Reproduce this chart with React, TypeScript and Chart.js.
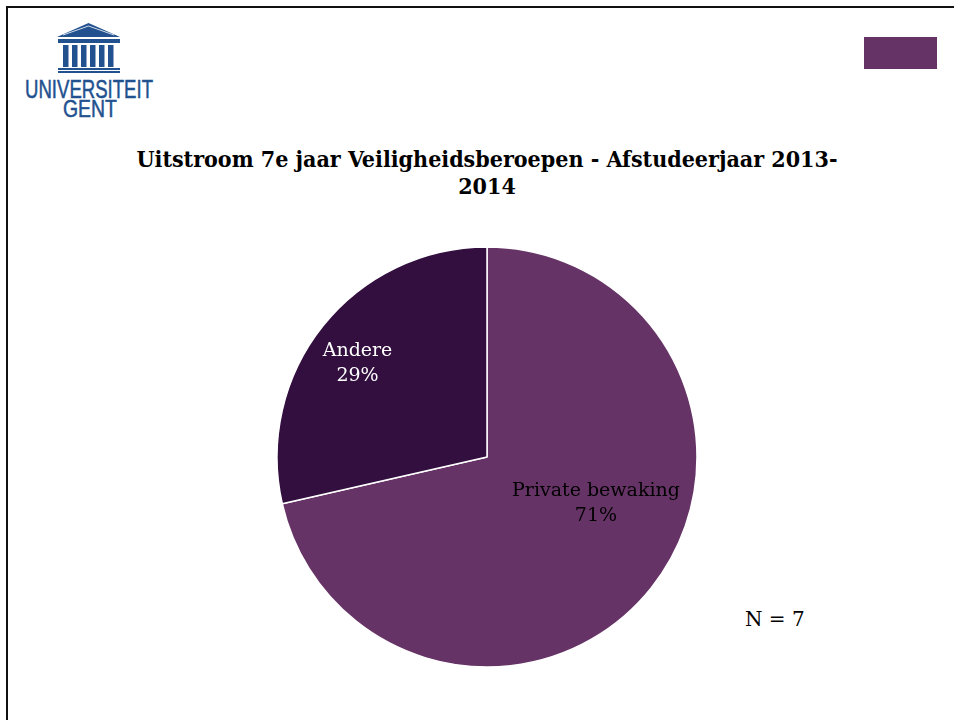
import React, { useEffect, useRef } from "react";
import { Chart, registerables } from "chart.js";

Chart.register(...registerables);

// ---- data ----
const categories = ["Private bewaking", "Andere"];
const counts = [5, 2];
const sliceColors = ["#663366", "#330f40"];
const labelColors = ["#000000", "#ffffff"];
const titleLines = [
  "Uitstroom 7e jaar Veiligheidsberoepen - Afstudeerjaar 2013-",
  "2014",
];
const nLabel = "N = 7";

// ---- label placement (style, not data) ----
const LABEL_ANGLE_OFFSET_DEG = [-15.5, -2.9];
const LABEL_RADIAL_FRACTION = [0.564, 0.759];
const LABEL_FONT = '19px "DejaVu Serif", serif';
const LABEL_LINE_GAP = 25;

const total = counts.reduce((a, b) => a + b, 0);
const percentLabels = counts.map((v) => Math.round((v / total) * 100) + "%");

const sliceLabelPlugin = {
  id: "sliceLabels",
  afterDatasetsDraw(chart: any) {
    const meta = chart.getDatasetMeta(0);
    const ctx = chart.ctx;
    meta.data.forEach((arc: any, i: number) => {
      const p = arc.getProps(["x", "y", "startAngle", "endAngle", "outerRadius"], true);
      const a = (p.startAngle + p.endAngle) / 2 + (LABEL_ANGLE_OFFSET_DEG[i] * Math.PI) / 180;
      const r = p.outerRadius * LABEL_RADIAL_FRACTION[i];
      const cx = p.x + Math.cos(a) * r;
      const cy = p.y + Math.sin(a) * r;
      ctx.save();
      ctx.font = LABEL_FONT;
      ctx.fillStyle = labelColors[i];
      ctx.textAlign = "center";
      ctx.textBaseline = "middle";
      ctx.fillText(categories[i], cx, cy - LABEL_LINE_GAP / 2);
      ctx.fillText(percentLabels[i], cx, cy + LABEL_LINE_GAP / 2);
      ctx.restore();
    });
  },
};

function Logo() {
  const blue = "#22518f";
  const cols = [0, 1, 2, 3, 4, 5];
  return (
    <svg
      width={200}
      height={130}
      style={{ position: "absolute", left: 0, top: 0 }}
      viewBox="0 0 200 130"
    >
      <polygon points="57,37 88.5,23 120,37" fill={blue} />
      <polyline points="63,35 88.5,26 114,35" fill="none" stroke="#ffffff" strokeWidth={0.8} />
      <rect x={58} y={39} width={62} height={4} fill={blue} />
      {cols.map((c) => (
        <rect key={c} x={63 + c * 9} y={45} width={5.5} height={22} fill={blue} />
      ))}
      <rect x={58} y={68} width={62} height={2} fill={blue} />
      <rect x={58} y={71} width={62} height={2} fill={blue} />
      <text
        x={25}
        y={98}
        fontFamily='"Liberation Sans", Arial, sans-serif'
        fontSize={25}
        fill={blue}
        stroke={blue}
        strokeWidth={0.5}
        textLength={128}
        lengthAdjust="spacingAndGlyphs"
      >
        UNIVERSITEIT
      </text>
      <text
        x={63}
        y={117}
        fontFamily='"Liberation Sans", Arial, sans-serif'
        fontSize={24}
        fill={blue}
        stroke={blue}
        strokeWidth={0.5}
        textLength={54}
        lengthAdjust="spacingAndGlyphs"
      >
        GENT
      </text>
    </svg>
  );
}

export default function App() {
  const canvasRef = useRef<HTMLCanvasElement | null>(null);

  useEffect(() => {
    document.body.style.margin = "0";
    const canvas = canvasRef.current;
    if (!canvas) return;
    const chart = new Chart(canvas, {
      type: "pie",
      data: {
        labels: categories,
        datasets: [
          {
            data: counts,
            backgroundColor: sliceColors,
            borderColor: "#ffffff",
            borderWidth: 1.5,
          },
        ],
      },
      options: {
        responsive: false,
        animation: false,
        radius: 210,
        layout: { padding: 0 },
        plugins: {
          legend: { display: false },
          tooltip: { enabled: false },
          title: { display: false },
        },
      },
      plugins: [sliceLabelPlugin],
    } as any);
    return () => chart.destroy();
  }, []);

  return (
    <div
      style={{
        position: "absolute",
        left: 0,
        top: 0,
        width: 954,
        height: 720,
        background: "#ffffff",
        overflow: "hidden",
      }}
    >
      <div
        style={{
          position: "absolute",
          left: 6,
          top: 6,
          width: 960,
          height: 730,
          borderTop: "2px solid #111111",
          borderLeft: "2px solid #111111",
        }}
      />
      <Logo />
      <div
        style={{
          position: "absolute",
          left: 864,
          top: 37,
          width: 73,
          height: 32,
          background: "#663366",
        }}
      />
      <div
        style={{
          position: "absolute",
          left: 87,
          top: 145,
          width: 800,
          textAlign: "center",
          fontFamily: '"DejaVu Serif Condensed", "DejaVu Serif", serif',
          fontWeight: "bold",
          fontSize: 23,
          lineHeight: "27px",
          color: "#000000",
        }}
      >
        {titleLines.map((t, i) => (
          <div key={i}>{t}</div>
        ))}
      </div>
      <canvas
        ref={canvasRef}
        width={440}
        height={440}
        style={{ position: "absolute", left: 267, top: 237, width: 440, height: 440 }}
      />
      <div
        style={{
          position: "absolute",
          left: 745,
          top: 605,
          fontFamily: '"DejaVu Serif", serif',
          fontSize: 20,
          lineHeight: "28px",
          color: "#000000",
          whiteSpace: "nowrap",
        }}
      >
        {nLabel}
      </div>
    </div>
  );
}
